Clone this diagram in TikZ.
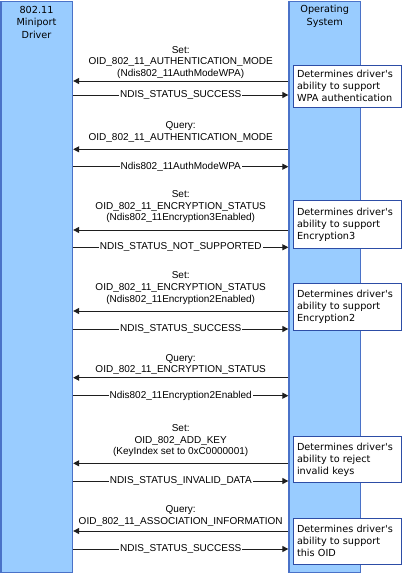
\documentclass[tikz,border=0pt]{standalone}
\usepackage{fontspec}
\setmainfont{Liberation Sans}
\newfontfamily\boxfont{DejaVu Sans}
\usetikzlibrary{arrows.meta}
\definecolor{barfill}{HTML}{99CCFF}
\definecolor{barline}{HTML}{4A72C8}
\definecolor{boxline}{HTML}{2D4DA6}
\definecolor{arrline}{HTML}{1E1E1E}
\tikzset{
  bar/.style={draw=barline, fill=barfill, line width=1.2pt, minimum width=71.5pt, minimum height=571pt, inner sep=0pt},
  titletext/.style={font=\boxfont\fontsize{9.7}{12.2}\selectfont, align=center, inner sep=0pt},
  infobox/.style={draw=boxline, fill=white, line width=1pt, text width=100pt, inner xsep=4pt, inner ysep=0pt, align=left, font=\boxfont\fontsize{9.7}{12}\selectfont},
  msgtext/.style={font=\fontsize{10}{11.7}\selectfont, align=center, inner sep=0pt},
  req/.style={draw=arrline, line width=1pt, -{Triangle[length=6pt,width=6pt]}},
  resp/.style={draw=arrline, line width=1pt, -{Triangle[length=6pt,width=6pt]}},
  resplabel/.style={font=\fontsize{10}{11.7}\selectfont, fill=white, inner xsep=1pt, inner ysep=0.5pt}
}
\begin{document}
\begin{tikzpicture}[x=1pt,y=-1pt]
\useasboundingbox (0,0) rectangle (402,573);
% bars
\node[bar] (drv) at (36.8,286.6) {};
\node[bar] (os) at (324.7,286.6) {};
\node[titletext] (drvt) at (36.5,22.3) {802.11\\Miniport\\Driver};
\node[titletext] (ost) at (324.7,16.3) {Operating\\System};
% info boxes
\node[infobox, minimum height=42pt] (b1) at (347,86) {Determines driver's\\ability to support\\WPA authentication};
\node[infobox, minimum height=47.5pt] (b2) at (347,224.5) {Determines driver's\\ability to support\\Encryption3};
\node[infobox, minimum height=46.7pt] (b3) at (347,306.7) {Determines driver's\\ability to support\\Encryption2};
\node[infobox, minimum height=46pt] (b4) at (347,459.7) {Determines driver's\\ability to reject\\invalid keys};
\node[infobox, minimum height=46pt] (b5) at (347,541.3) {Determines driver's\\ability to support\\this OID};
% message labels
\node[msgtext] (m1) at (180.7,62.3) {Set:\\OID\_802\_11\_AUTHENTICATION\_MODE\\(Ndis802\_11AuthModeWPA)};
\node[msgtext] (m2) at (180.7,131.9) {Query:\\OID\_802\_11\_AUTHENTICATION\_MODE};
\node[msgtext] (m3) at (180.7,206.7) {Set:\\OID\_802\_11\_ENCRYPTION\_STATUS\\(Ndis802\_11Encryption3Enabled)};
\node[msgtext] (m4) at (180.7,288.2) {Set:\\OID\_802\_11\_ENCRYPTION\_STATUS\\(Ndis802\_11Encryption2Enabled)};
\node[msgtext] (m5) at (180.7,364.5) {Query:\\OID\_802\_11\_ENCRYPTION\_STATUS};
\node[msgtext] (m6) at (180.7,440.6) {Set:\\OID\_802\_ADD\_KEY\\(KeyIndex set to 0xC0000001)};
\node[msgtext] (m7) at (180.7,516.2) {Query:\\OID\_802\_11\_ASSOCIATION\_INFORMATION};
% requests
\draw[req] (os.west |- 0,81) -- (drv.east |- 0,81);
\draw[req] (os.west |- 0,149.3) -- (drv.east |- 0,149.3);
\draw[req] (os.west |- 0,230) -- (drv.east |- 0,230);
\draw[req] (os.west |- 0,311) -- (drv.east |- 0,311);
\draw[req] (os.west |- 0,377.7) -- (drv.east |- 0,377.7);
\draw[req] (os.west |- 0,463.3) -- (drv.east |- 0,463.3);
\draw[req] (os.west |- 0,531) -- (drv.east |- 0,531);
% responses
\draw[resp] (drv.east |- 0,95) -- node[resplabel] (r1) {NDIS\_STATUS\_SUCCESS} (os.west |- 0,95);
\draw[resp] (drv.east |- 0,166.7) -- node[resplabel] (r2) {Ndis802\_11AuthModeWPA} (os.west |- 0,166.7);
\draw[resp] (drv.east |- 0,247.3) -- node[resplabel] (r3) {NDIS\_STATUS\_NOT\_SUPPORTED} (os.west |- 0,247.3);
\draw[resp] (drv.east |- 0,329) -- node[resplabel] (r4) {NDIS\_STATUS\_SUCCESS} (os.west |- 0,329);
\draw[resp] (drv.east |- 0,395.7) -- node[resplabel] (r5) {Ndis802\_11Encryption2Enabled} (os.west |- 0,395.7);
\draw[resp] (drv.east |- 0,481) -- node[resplabel] (r6) {NDIS\_STATUS\_INVALID\_DATA} (os.west |- 0,481);
\draw[resp] (drv.east |- 0,549) -- node[resplabel] (r7) {NDIS\_STATUS\_SUCCESS} (os.west |- 0,549);
\end{tikzpicture}
\end{document}
